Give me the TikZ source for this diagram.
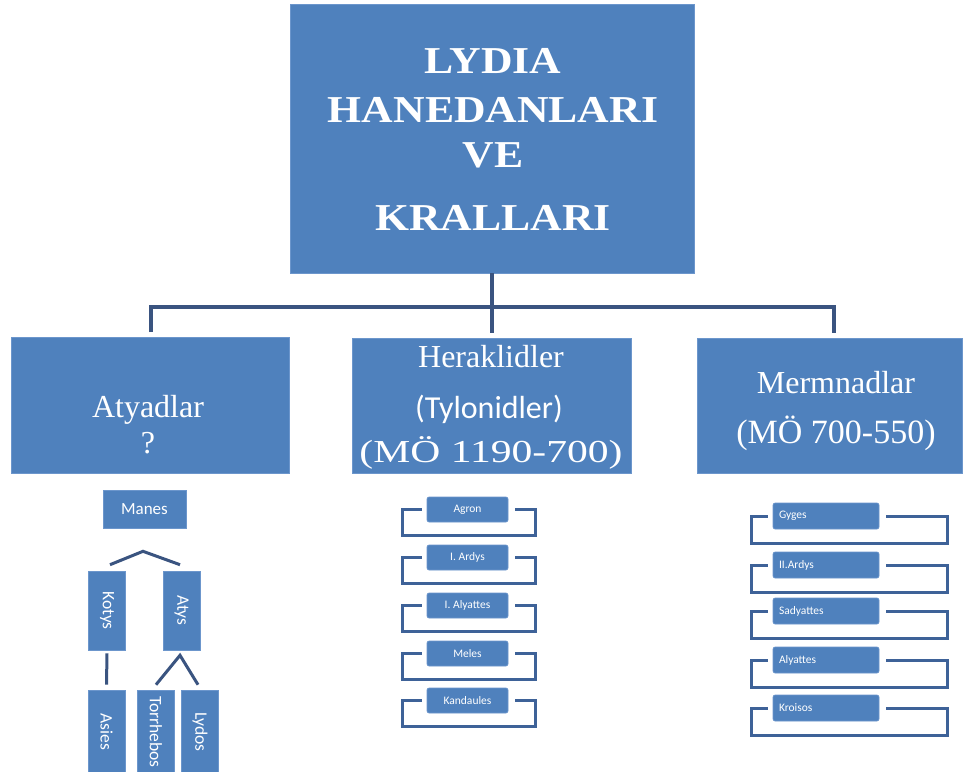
\documentclass[tikz,border=0pt]{standalone}
\usepackage{fontspec}
\usepackage{graphicx}
\setmainfont{Liberation Serif}
\newfontfamily\calfont{Carlito}
\definecolor{boxblue}{RGB}{79,129,189}
\definecolor{boxedge}{RGB}{108,150,204}
\definecolor{linenavy}{RGB}{58,84,128}
\definecolor{brk}{RGB}{62,98,152}
\tikzset{
  bigbox/.style={fill=boxblue, draw=boxedge, line width=0.8pt, inner sep=0pt},
  titletxt/.style={text=white, anchor=base, inner sep=0pt, font=\fontsize{38}{44}\selectfont\bfseries},
  lvltxt/.style={text=white, anchor=base, inner sep=0pt, font=\fontsize{32}{36}\selectfont},
  smallbox/.style={fill=boxblue, draw=boxedge, line width=0.6pt, rounded corners=2pt, inner sep=0pt, text=white, font=\calfont\fontsize{11.5}{13}\selectfont},
  vbox/.style={fill=boxblue, draw=boxedge, line width=0.6pt, inner sep=0pt, text=white, font=\calfont\fontsize{17.5}{19}\selectfont, minimum width=37pt},
  conn/.style={draw=linenavy, line width=3.6pt},
  caret/.style={draw=linenavy, line width=3pt},
  bracket/.style={draw=brk, line width=3pt}
}
\begin{document}
\begin{tikzpicture}[x=1pt,y=-1pt]
\fill[white] (0,0) rectangle (965,771);
\useasboundingbox (0,0) rectangle (965,771);

% top box
\node[bigbox, minimum width=404pt, minimum height=269pt] (top) at (492,138.5) {};
\node[titletxt] (t1) at (493,73) {\scalebox{1.15}[1]{LYDIA}};
\node[titletxt] (t2) at (493,122) {\scalebox{1.15}[1]{HANEDANLARI}};
\node[titletxt] (t3) at (493,167) {\scalebox{1.15}[1]{VE}};
\node[titletxt] (t4) at (493,230) {\scalebox{1.15}[1]{KRALLARI}};

% level 2 boxes
\node[bigbox, minimum width=278pt, minimum height=136pt] (aty) at (150,405.5) {};
\node[bigbox, minimum width=279pt, minimum height=135pt] (her) at (492,405.5) {};
\node[bigbox, minimum width=265pt, minimum height=135pt] (mer) at (829.5,405.5) {};

\node[lvltxt] (aty1) at (148,417) {Atyadlar};
\node[lvltxt] (aty2) at (148,453) {?};
\node[lvltxt] (her1) at (491,367) {Heraklidler};
\node[lvltxt, font=\calfont\fontsize{32}{36}\selectfont] (her2) at (489,418) {(Tylonidler)};
\node[lvltxt] (her3) at (491,462) {\scalebox{1.3}[1]{(MÖ 1190-700)}};
\node[lvltxt] (mer1) at (836,393) {Mermnadlar};
\node[lvltxt, font=\fontsize{34}{38}\selectfont] (mer2) at (836,443) {(MÖ 700-550)};

% main connectors
\coordinate (hub) at (492,307);
\draw[conn] (top.south) -- ([yshift=5pt]her.north);
\draw[conn] ([xshift=1pt,yshift=5pt]aty.north) |- (hub) -| ([xshift=4.5pt,yshift=5pt]mer.north);

% Atyadlar subtree
\node[smallbox, rounded corners=0pt, font=\calfont\fontsize{17}{19}\selectfont, minimum width=83pt, minimum height=38pt] (manes) at (144.5,509) {Manes};
\node[vbox, minimum height=79pt] (kotys) at (107,610.5) {\rotatebox{-90}{Kotys}};
\node[vbox, minimum height=79pt] (atys) at (181.5,610.5) {\rotatebox{-90}{Atys}};
\node[vbox, minimum height=84pt] (asies) at (106.5,732) {\rotatebox{-90}{Asies}};
\node[vbox, minimum height=84pt] (torr) at (156,732) {\rotatebox{-90}{Torrhebos}};
\node[vbox, minimum height=84pt] (lydos) at (200,732) {\rotatebox{-90}{Lydos}};

\draw[caret] ([xshift=3pt,yshift=6pt]kotys.north) -- ([xshift=-1.5pt,yshift=-23pt]manes.south) -- ([xshift=-1.5pt,yshift=6pt]atys.north);
\draw[caret] ([yshift=5pt]torr.north) -- ([xshift=-1.5pt,yshift=-5pt]atys.south) -- ([xshift=-2pt,yshift=5pt]lydos.north);
\draw[caret] ([yshift=-3pt]kotys.south) -- ([yshift=5pt]asies.north);

% Heraklidler list
\foreach \n/\txt/\yy in {h1/Agron/509.5, h2/I. Ardys/557.5, h3/I. Alyattes/605.5, h4/Meles/653.5, h5/Kandaules/700.5}{
  \node[smallbox, minimum width=81pt, minimum height=25pt] (\n) at (467.5,\yy) {\txt};
  \draw[bracket] ([xshift=-5pt]\n.west) -- ++(-19,0) -- ++(0,26) -- ++(133,0) -- ++(0,-26) -- ([xshift=7pt]\n.east);
}

% Mermnadlar list
\foreach \n/\txt/\yy in {m1/Gyges/516, m2/II.Ardys/565, m3/Sadyattes/611, m4/Alyattes/660, m5/Kroisos/708}{
  \node[smallbox, text width=94pt, align=left, inner xsep=6pt, minimum height=26pt] (\n) at (826,\yy) {\txt};
  \draw[bracket] ([xshift=-5pt]\n.west) -- ++(-16,0) -- ++(0,27) -- ++(196,0) -- ++(0,-27) -- ([xshift=7pt]\n.east);
}
\end{tikzpicture}
\end{document}
